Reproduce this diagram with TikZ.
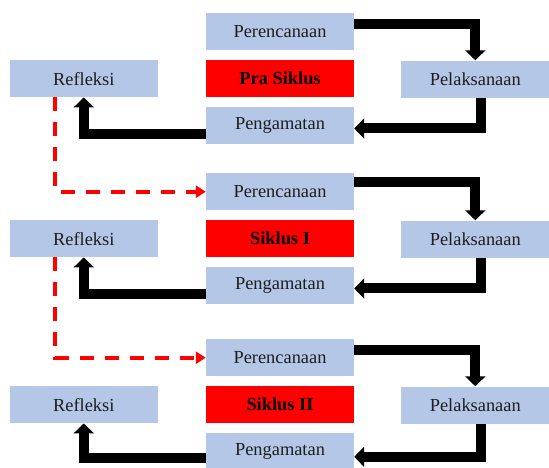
\documentclass[tikz,border=0pt]{standalone}
\usepackage{fontspec}
\setmainfont{Liberation Serif}
\usetikzlibrary{arrows.meta}

\begin{document}
\begin{tikzpicture}[x=0.03cm,y=-0.03cm,
  box/.style={fill=kBlue,inner sep=0pt,minimum width=4.44cm,minimum height=1.11cm,
    text=kText,font=\fontsize{15.7}{18}\selectfont},
  siklus/.style={box,fill=kRed,text=black,font=\fontsize{15.7}{18}\selectfont\bfseries},
  flow/.style={line width=0.3cm,-{Triangle[width=0.6cm,length=0.3cm]}},
  nextcycle/.style={draw=kRed,line width=0.12cm,dash pattern=on 0.42cm off 0.33cm,
    -{Triangle[width=0.36cm,length=0.3cm,fill=kRed]}}]
  % colors
  \definecolor{kBlue}{RGB}{180,199,231}
  \definecolor{kRed}{RGB}{255,0,0}
  \definecolor{kText}{RGB}{30,30,30}
  \useasboundingbox (0,0) rectangle (549,468);
  % pra siklus
  \node[box] (per1) at (280,31.7) {Perencanaan};
  \node[siklus] (pra) at (280,78.7) {Pra Siklus};
  \node[box] (pen1) at (280,125.8) {Pengamatan};
  \node[box] (ref1) at (83.8,78.7) {Refleksi};
  \node[box] (pel1) at (475.3,79) {Pelaksanaan};
  % siklus I
  \node[box] (per2) at (280,191.7) {Perencanaan};
  \node[siklus] (sik1) at (280,238.7) {Siklus I};
  \node[box] (pen2) at (280,285.8) {Pengamatan};
  \node[box] (ref2) at (83.8,238.7) {Refleksi};
  \node[box] (pel2) at (475.3,239) {Pelaksanaan};
  % siklus II
  \node[box] (per3) at (280,357.7) {Perencanaan};
  \node[siklus] (sik2) at (280,404.7) {Siklus II};
  \node[box] (pen3) at (280,451.8) {Pengamatan};
  \node[box] (ref3) at (83.8,404.7) {Refleksi};
  \node[box] (pel3) at (475.3,405) {Pelaksanaan};
  % cycle arrows
  \draw[flow] ([yshift=0.22cm]per1.east) -| (pel1.north);
  \draw[flow] ([xshift=0.17cm]pel1.south) |- ([yshift=-0.08cm]pen1.east);
  \draw[flow] ([yshift=-0.25cm]pen1.west) -| (ref1.south);
  \draw[flow] ([yshift=0.3cm]per2.east) -| (pel2.north);
  \draw[flow] ([xshift=0.17cm]pel2.south) |- ([yshift=-0.08cm]pen2.east);
  \draw[flow] ([yshift=-0.25cm]pen2.west) -| (ref2.south);
  \draw[flow] ([yshift=0.22cm]per3.east) -| (pel3.north);
  \draw[flow] ([xshift=0.17cm]pel3.south) |- ([yshift=-0.15cm]pen3.east);
  \draw[flow] ([yshift=-0.2cm]pen3.west) -| (ref3.south);
  % next cycle
  \draw[nextcycle] ([xshift=-0.85cm]ref1.south) |- (per2.west);
  \draw[nextcycle] ([xshift=-0.85cm]ref2.south) |- (per3.west);
\end{tikzpicture}
\end{document}
